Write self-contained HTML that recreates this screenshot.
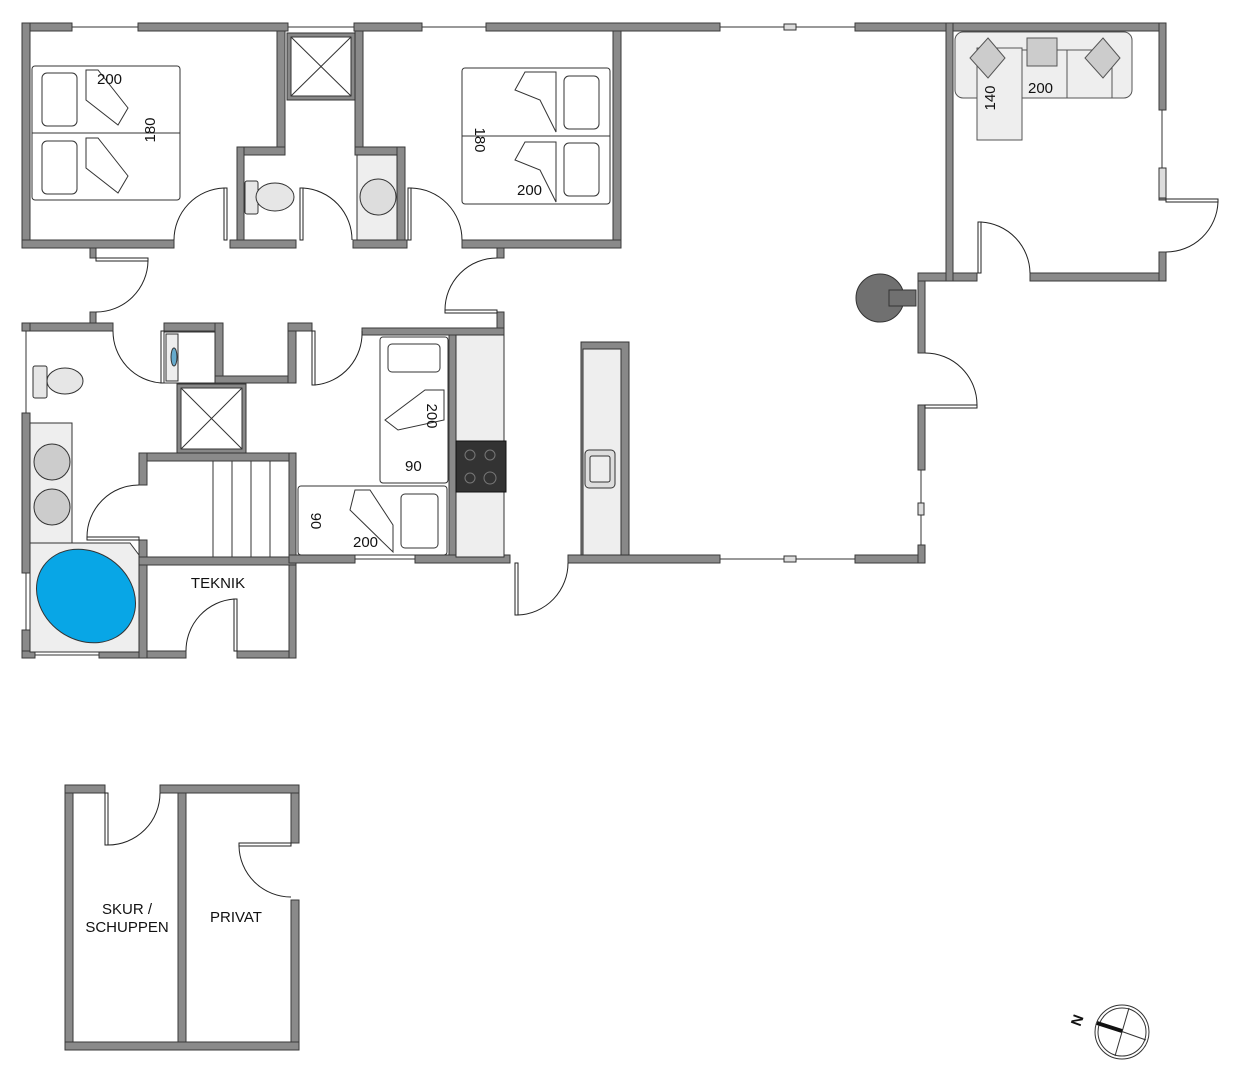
<!DOCTYPE html>
<html><head><meta charset="utf-8"><style>
html,body{margin:0;padding:0;background:#fff;}
svg{display:block;}
text{font-family:"Liberation Sans",sans-serif;fill:#111;}
</style></head><body>
<svg width="1234" height="1087" viewBox="0 0 1234 1087" xmlns="http://www.w3.org/2000/svg">
<g fill="#8a8a8a" stroke="#3a3a3a" stroke-width="1">
<!-- top wall -->
<rect x="22" y="23" width="50" height="8"/>
<rect x="138" y="23" width="150" height="8"/>
<rect x="354" y="23" width="68" height="8"/>
<rect x="486" y="23" width="234" height="8"/>
<rect x="855" y="23" width="311" height="8"/>
<!-- left wall upper -->
<rect x="22" y="23" width="8" height="225"/>
<!-- bedroom1 right wall -->
<rect x="277" y="31" width="8" height="124"/>
<rect x="237" y="147" width="48" height="8"/>
<rect x="237" y="147" width="7" height="93"/>
<!-- bedroom2 left wall -->
<rect x="355" y="31" width="8" height="124"/>
<rect x="355" y="147" width="50" height="8"/>
<rect x="397" y="147" width="8" height="93"/>
<!-- bedroom2 right wall -->
<rect x="613" y="31" width="8" height="217"/>
<!-- bedroom bottom walls -->
<rect x="22" y="240" width="152" height="8"/>
<rect x="230" y="240" width="66" height="8"/>
<rect x="353" y="240" width="54" height="8"/>
<rect x="462" y="240" width="159" height="8"/>
<!-- hallway walls -->
<rect x="90" y="248" width="6" height="10"/>
<rect x="90" y="312" width="6" height="13"/>
<rect x="497" y="248" width="7" height="10"/>
<rect x="497" y="312" width="7" height="23"/>
<!-- lower block -->
<rect x="22" y="323" width="91" height="8"/>
<rect x="164" y="323" width="59" height="8"/>
<rect x="215" y="323" width="8" height="60"/>
<rect x="215" y="376" width="81" height="7"/>
<rect x="288" y="323" width="8" height="60"/>
<rect x="288" y="323" width="24" height="8"/>
<rect x="362" y="328" width="142" height="7"/>
<rect x="22" y="413" width="8" height="160"/>
<rect x="22" y="323" width="8" height="8"/>
<rect x="22" y="630" width="8" height="28"/>
<rect x="22" y="651" width="13" height="7"/>
<rect x="99" y="651" width="87" height="7"/>
<rect x="237" y="651" width="59" height="7"/>
<rect x="139" y="453" width="157" height="8"/>
<rect x="139" y="453" width="8" height="32"/>
<rect x="139" y="540" width="8" height="118"/>
<rect x="289" y="453" width="7" height="205"/>
<rect x="139" y="557" width="157" height="8"/>
<rect x="449" y="335" width="7" height="222"/>
<!-- main bottom wall -->
<rect x="289" y="555" width="66" height="8"/>
<rect x="415" y="555" width="95" height="8"/>
<rect x="568" y="555" width="152" height="8"/>
<rect x="855" y="555" width="70" height="8"/>
<!-- right side -->
<rect x="918" y="273" width="7" height="80"/>
<rect x="918" y="405" width="7" height="65"/>
<rect x="918" y="545" width="7" height="18"/>
<rect x="918" y="273" width="59" height="8"/>
<rect x="1030" y="273" width="136" height="8"/>
<rect x="946" y="23" width="7" height="258"/>
<rect x="1159" y="23" width="7" height="87"/>
<rect x="1159" y="170" width="7" height="30"/>
<rect x="1159" y="252" width="7" height="29"/>
<!-- outbuilding -->
<rect x="65" y="785" width="8" height="265"/>
<rect x="291" y="785" width="8" height="58"/>
<rect x="291" y="900" width="8" height="150"/>
<rect x="65" y="785" width="40" height="8"/>
<rect x="160" y="785" width="139" height="8"/>
<rect x="65" y="1042" width="234" height="8"/>
<rect x="178" y="793" width="8" height="249"/>
</g>
<!-- windows -->
<g stroke="#333" stroke-width="1" fill="none">
<line x1="72" y1="27" x2="138" y2="27"/>
<line x1="288" y1="27" x2="354" y2="27"/>
<line x1="422" y1="27" x2="486" y2="27"/>
<line x1="720" y1="27" x2="855" y2="27"/>
<line x1="355" y1="559" x2="415" y2="559"/>
<line x1="720" y1="559" x2="855" y2="559"/>
<line x1="1162" y1="110" x2="1162" y2="170"/>
<line x1="921" y1="470" x2="921" y2="545"/>
<line x1="26" y1="331" x2="26" y2="413"/>
<line x1="26" y1="573" x2="26" y2="630"/>
<line x1="35" y1="655" x2="99" y2="655"/>
</g>
<g fill="#ddd" stroke="#333" stroke-width="1">
<rect x="784" y="24" width="12" height="6"/><rect x="784" y="556" width="12" height="6"/>
<rect x="918" y="503" width="6" height="12"/><rect x="1159" y="168" width="7" height="30"/>
</g>
<!-- doors -->
<g stroke="#222" stroke-width="1" fill="none">
<rect x="224" y="188" width="3" height="52" fill="#fff"/><path d="M224 188 A52 52 0 0 0 174 240"/>
<rect x="300" y="188" width="3" height="52" fill="#fff"/><path d="M303 188 A52 52 0 0 1 352 240"/>
<rect x="408" y="188" width="3" height="52" fill="#fff"/><path d="M411 188 A52 52 0 0 1 462 240"/>
<rect x="96" y="258" width="52" height="3" fill="#fff"/><path d="M148 261 A52 52 0 0 1 96 312"/>
<rect x="445" y="310" width="52" height="3" fill="#fff"/><path d="M445 310 A52 52 0 0 1 497 258"/>
<rect x="161" y="331" width="3" height="52" fill="#fff"/><path d="M161 383 A52 52 0 0 1 113 331"/>
<rect x="312" y="331" width="3" height="54" fill="#fff"/><path d="M315 385 A52 52 0 0 0 362 331"/>
<rect x="87" y="537" width="52" height="3" fill="#fff"/><path d="M87 537 A52 52 0 0 1 139 485"/>
<rect x="234" y="599" width="3" height="52" fill="#fff"/><path d="M186 651 A52 52 0 0 1 234 599"/>
<rect x="515" y="563" width="3" height="52" fill="#fff"/><path d="M518 615 A52 52 0 0 0 568 563"/>
<rect x="1166" y="199" width="52" height="3" fill="#fff"/><path d="M1218 202 A52 52 0 0 1 1166 252"/>
<rect x="978" y="222" width="3" height="51" fill="#fff"/><path d="M981 222 A52 52 0 0 1 1030 273"/>
<rect x="925" y="405" width="52" height="3" fill="#fff"/><path d="M925 353 A52 52 0 0 1 977 405"/>
<rect x="105" y="793" width="3" height="52" fill="#fff"/><path d="M108 845 A52 52 0 0 0 160 793"/>
<rect x="239" y="843" width="52" height="3" fill="#fff"/><path d="M239 846 A52 52 0 0 0 291 897"/>
</g>
<!-- showers -->
<g stroke="#333" fill="#fff">
<rect x="287" y="33" width="68" height="67" fill="#888"/><rect x="291" y="37" width="60" height="59"/>
<line x1="291" y1="37" x2="351" y2="96"/><line x1="351" y1="37" x2="291" y2="96"/>
<rect x="177" y="384" width="69" height="69" fill="#888"/><rect x="181" y="388" width="61" height="61"/>
<line x1="181" y1="388" x2="242" y2="449"/><line x1="242" y1="388" x2="181" y2="449"/>
</g>
<!-- washing machine -->
<rect x="164" y="332" width="51" height="51" fill="#fff" stroke="#333"/>
<rect x="166" y="334" width="12" height="47" fill="#eee" stroke="#333"/>
<ellipse cx="174" cy="357" rx="3" ry="9" fill="#6ac" stroke="#333"/>
<!-- toilets & sinks -->
<g stroke="#333" fill="#e6e6e6">
<rect x="245" y="181" width="13" height="33" rx="2"/><ellipse cx="275" cy="197" rx="19" ry="14"/>
<rect x="357" y="155" width="40" height="85" fill="#eee"/><circle cx="378" cy="197" r="18" fill="#ddd"/>
<rect x="33" y="366" width="14" height="32" rx="2"/><ellipse cx="65" cy="381" rx="18" ry="13"/>
<rect x="30" y="423" width="42" height="120" fill="#eee"/>
<circle cx="52" cy="462" r="18" fill="#ccc"/><circle cx="52" cy="507" r="18" fill="#ccc"/>
</g>
<!-- bath -->
<polygon points="30,543 130,543 139,555 139,652 30,652" fill="#eee" stroke="#333"/>
<ellipse cx="86" cy="596" rx="52" ry="44" transform="rotate(35 86 596)" fill="#08a6e6" stroke="#333"/>
<!-- beds bedroom1 -->
<g stroke="#333" fill="#fff">
<rect x="32" y="66" width="148" height="134" rx="3"/>
<line x1="32" y1="133" x2="180" y2="133"/>
<rect x="42" y="73" width="35" height="53" rx="5"/><rect x="42" y="141" width="35" height="53" rx="5"/>
<polygon points="86,70 98,70 128,108 118,125 86,100"/><polygon points="86,138 98,138 128,176 118,193 86,168"/>
<rect x="462" y="68" width="148" height="136" rx="3"/>
<line x1="462" y1="136" x2="610" y2="136"/>
<rect x="564" y="76" width="35" height="53" rx="5"/><rect x="564" y="143" width="35" height="53" rx="5"/>
<polygon points="556,72 556,132 540,100 515,90 525,72"/><polygon points="556,142 556,202 540,170 515,160 525,142"/>
<!-- lower beds -->
<rect x="380" y="337" width="68" height="146" rx="3"/><rect x="388" y="344" width="52" height="28" rx="4"/>
<polygon points="425,390 444,390 444,420 398,430 385,420"/>
<rect x="298" y="486" width="149" height="69" rx="3"/><rect x="401" y="494" width="37" height="54" rx="4"/>
<polygon points="355,490 370,490 393,525 393,552 350,510"/>
</g>
<!-- kitchen -->
<rect x="456" y="335" width="48" height="222" fill="#eee" stroke="#333"/>
<rect x="456" y="441" width="50" height="51" fill="#333" stroke="#111"/>
<g fill="none" stroke="#777"><circle cx="470" cy="455" r="5"/><circle cx="490" cy="455" r="5"/><circle cx="470" cy="478" r="5"/><circle cx="490" cy="478" r="6"/></g>
<rect x="581" y="342" width="48" height="213" fill="#888" stroke="#333"/>
<rect x="583" y="349" width="38" height="206" fill="#eee" stroke="#333"/>
<rect x="585" y="450" width="30" height="38" rx="4" fill="#ddd" stroke="#333"/>
<rect x="590" y="456" width="20" height="26" rx="2" fill="#eee" stroke="#333"/>
<!-- stairs -->
<g stroke="#333"><line x1="213" y1="461" x2="213" y2="557"/><line x1="232" y1="461" x2="232" y2="557"/><line x1="251" y1="461" x2="251" y2="557"/><line x1="270" y1="461" x2="270" y2="557"/></g>
<!-- fireplace -->
<circle cx="880" cy="298" r="24" fill="#707070" stroke="#333"/>
<rect x="889" y="290" width="27" height="16" fill="#707070" stroke="#333"/>
<!-- sofa -->
<g stroke="#555" fill="#eee">
<rect x="955" y="32" width="177" height="66" rx="8"/>
<rect x="977" y="48" width="45" height="92"/>
<rect x="1022" y="50" width="45" height="48"/><rect x="1067" y="50" width="45" height="48"/>
<polygon points="988,38 1005,58 988,78 970,58" fill="#ccc"/>
<rect x="1027" y="38" width="30" height="28" fill="#ccc"/>
<polygon points="1103,38 1120,58 1103,78 1085,58" fill="#ccc"/>
</g>
<!-- labels -->
<g font-size="15">
<text x="97" y="84">200</text>
<text x="517" y="195">200</text>
<text x="1028" y="93">200</text>
<text x="405" y="471">90</text>
<text x="353" y="547">200</text>
<text transform="translate(155,130) rotate(-90)" text-anchor="middle">180</text>
<text transform="translate(475,140) rotate(90)" text-anchor="middle">180</text>
<text transform="translate(995,98) rotate(-90)" text-anchor="middle">140</text>
<text transform="translate(427,416) rotate(90)" text-anchor="middle">200</text>
<text transform="translate(311,521) rotate(90)" text-anchor="middle">90</text>
<text x="218" y="588" text-anchor="middle">TEKNIK</text>
<text x="127" y="914" text-anchor="middle">SKUR /</text>
<text x="127" y="932" text-anchor="middle">SCHUPPEN</text>
<text x="236" y="922" text-anchor="middle">PRIVAT</text>
</g>
<!-- compass -->
<circle cx="1122" cy="1032" r="27" fill="none" stroke="#333"/>
<circle cx="1122" cy="1032" r="24" fill="none" stroke="#333"/>
<line x1="1129" y1="1008" x2="1115" y2="1056" stroke="#333"/>
<line x1="1098" y1="1023" x2="1146" y2="1040" stroke="#333"/>
<line x1="1097" y1="1023" x2="1122" y2="1031" stroke="#111" stroke-width="4"/>
<text transform="translate(1082,1022) rotate(-70)" font-size="15" font-weight="bold" text-anchor="middle">N</text>
</svg>
</body></html>
